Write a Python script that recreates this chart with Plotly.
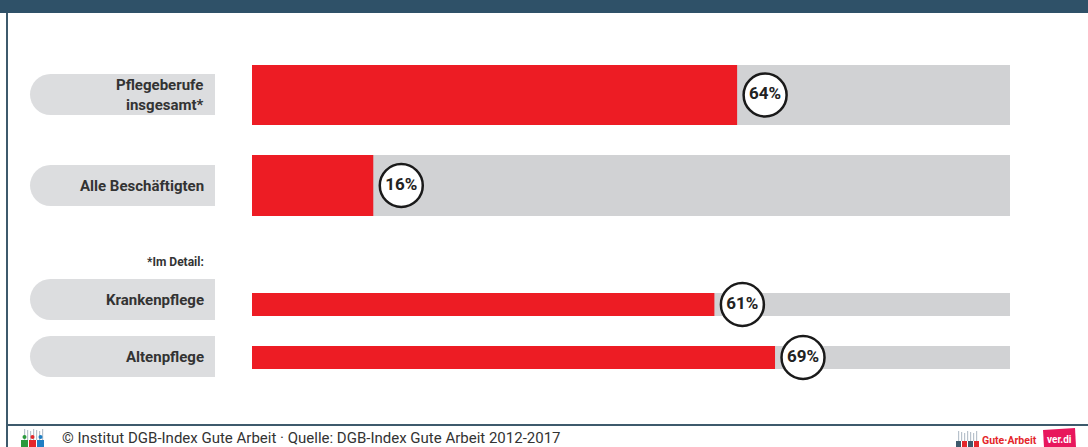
import plotly.graph_objects as go

# ---- data ----
categories = ["Pflegeberufe<br>insgesamt*", "Alle Beschäftigten", "Krankenpflege", "Altenpflege"]
values = [64, 16, 61, 69]
totals = [100, 100, 100, 100]
value_labels = ["64%", "16%", "61%", "69%"]
detail_note = "*Im Detail:"
footer = "© Institut DGB-Index Gute Arbeit · Quelle: DGB-Index Gute Arbeit 2012-2017"

# ---- layout geometry (pixels) ----
W, H = 1088, 447
X0, X100 = 252, 1010
SCALE = (X100 - X0) / 100.0
def px(x):
    return (x - X0) / SCALE

row_y = [95, 185.5, 304.5, 357.5]
row_w = [60, 61, 23, 23]
pill_y = [(74, 115), (165, 206), (279, 320), (336, 377)]

RED = "#ed1c24"
GREY = "#d1d2d4"
PILL = "#dcdddf"
DARK = "#2f5168"
TXT = "#333333"
FONT = "Roboto"

fig = go.Figure()
fig.add_trace(go.Bar(y=row_y, x=totals, width=row_w, orientation="h",
                     marker=dict(color=GREY, line=dict(width=0)), hoverinfo="skip"))
fig.add_trace(go.Bar(y=row_y, x=values, width=row_w, orientation="h",
                     marker=dict(color=RED, line=dict(width=0)), hoverinfo="skip"))
off = 28 / SCALE
fig.add_trace(go.Scatter(
    y=row_y, x=[v + off for v in values], mode="markers+text",
    text=value_labels, textposition="middle center",
    textfont=dict(family=FONT, size=17, color="#222222", weight="bold"),
    marker=dict(size=43, color="white", line=dict(color="#1a1a1a", width=2.5)),
    hoverinfo="skip"))

shapes = []
shapes.append(dict(type="rect", x0=px(0), x1=px(W), y0=0, y1=13, fillcolor=DARK, line_width=0, layer="above"))
shapes.append(dict(type="line", x0=px(7), x1=px(7), y0=13, y1=H, line=dict(color="#3d5a6c", width=2)))
shapes.append(dict(type="line", x0=px(6), x1=px(W), y0=425, y1=425, line=dict(color="#3d5a6c", width=2)))
for (a, b) in pill_y:
    r = (b - a) / 2
    shapes.append(dict(type="circle", x0=px(30), x1=px(30 + 2 * r), y0=a, y1=b, fillcolor=PILL, line_width=0, layer="below"))
    shapes.append(dict(type="rect", x0=px(30 + r), x1=px(215), y0=a, y1=b, fillcolor=PILL, line_width=0, layer="below"))

# decorative footer logos
for i, xx in enumerate([24, 27, 30, 33, 36, 39, 42]):
    shapes.append(dict(type="rect", x0=px(xx), x1=px(xx + 1.2), y0=429 + (i % 3), y1=440, fillcolor="#b8c2cc", line_width=0))
for xx, c in [(21, "#2a9a3c"), (29, "#e4262a"), (37, "#1f7fc4")]:
    shapes.append(dict(type="rect", x0=px(xx), x1=px(xx + 7), y0=440, y1=447, fillcolor=c, line_width=0))
    shapes.append(dict(type="circle", x0=px(xx + 1.5), x1=px(xx + 5.5), y0=435, y1=439, fillcolor=c, line_width=0))
for i, xx in enumerate([958, 961, 964, 967, 970, 973, 976]):
    shapes.append(dict(type="rect", x0=px(xx), x1=px(xx + 1.2), y0=431 + (i % 3), y1=441, fillcolor="#b8c2cc", line_width=0))
for xx, c in [(956, "#3d5a6c"), (962, "#e4262a"), (968, "#3d5a6c"), (974, "#e4262a")]:
    shapes.append(dict(type="rect", x0=px(xx), x1=px(xx + 5), y0=441, y1=447, fillcolor=c, line_width=0))
shapes.append(dict(type="path",
                   path=f"M {px(1043)},{430} L {px(1075)},{428} L {px(1076)},{447} L {px(1044)},{447} Z",
                   fillcolor="#e8175d", line_width=0))

annotations = []
for cat, (a, b) in zip(categories, pill_y):
    annotations.append(dict(x=px(206), y=(a + b) / 2, text=cat, showarrow=False,
                            xanchor="right", yanchor="middle", align="right",
                            font=dict(family=FONT, size=15, color=TXT, weight="bold")))
annotations.append(dict(x=px(206), y=262, text=detail_note, showarrow=False, xanchor="right", yanchor="middle",
                        font=dict(family=FONT, size=12, color=TXT, weight="bold")))
annotations.append(dict(x=px(60), y=438, text=footer, showarrow=False, xanchor="left", yanchor="middle",
                        font=dict(family=FONT, size=15, color=TXT)))
annotations.append(dict(x=px(980), y=440, text="Gute·Arbeit", showarrow=False, xanchor="left", yanchor="middle",
                        font=dict(family=FONT, size=10.5, color="#e4262a", weight="bold")))
annotations.append(dict(x=px(1059), y=439, text="ver.di", showarrow=False, xanchor="center", yanchor="middle",
                        font=dict(family=FONT, size=10, color="white", weight="bold")))

fig.update_layout(
    width=W, height=H, margin=dict(l=0, r=0, t=0, b=0),
    paper_bgcolor="white", plot_bgcolor="white",
    barmode="overlay", showlegend=False,
    xaxis=dict(range=[px(0), px(W)], visible=False, fixedrange=True),
    yaxis=dict(range=[H, 0], visible=False, fixedrange=True),
    shapes=shapes, annotations=annotations,
)
fig.write_html("out.html", config={"displayModeBar": False},
               post_script="document.body.style.margin='0';document.body.style.overflow='hidden';")
